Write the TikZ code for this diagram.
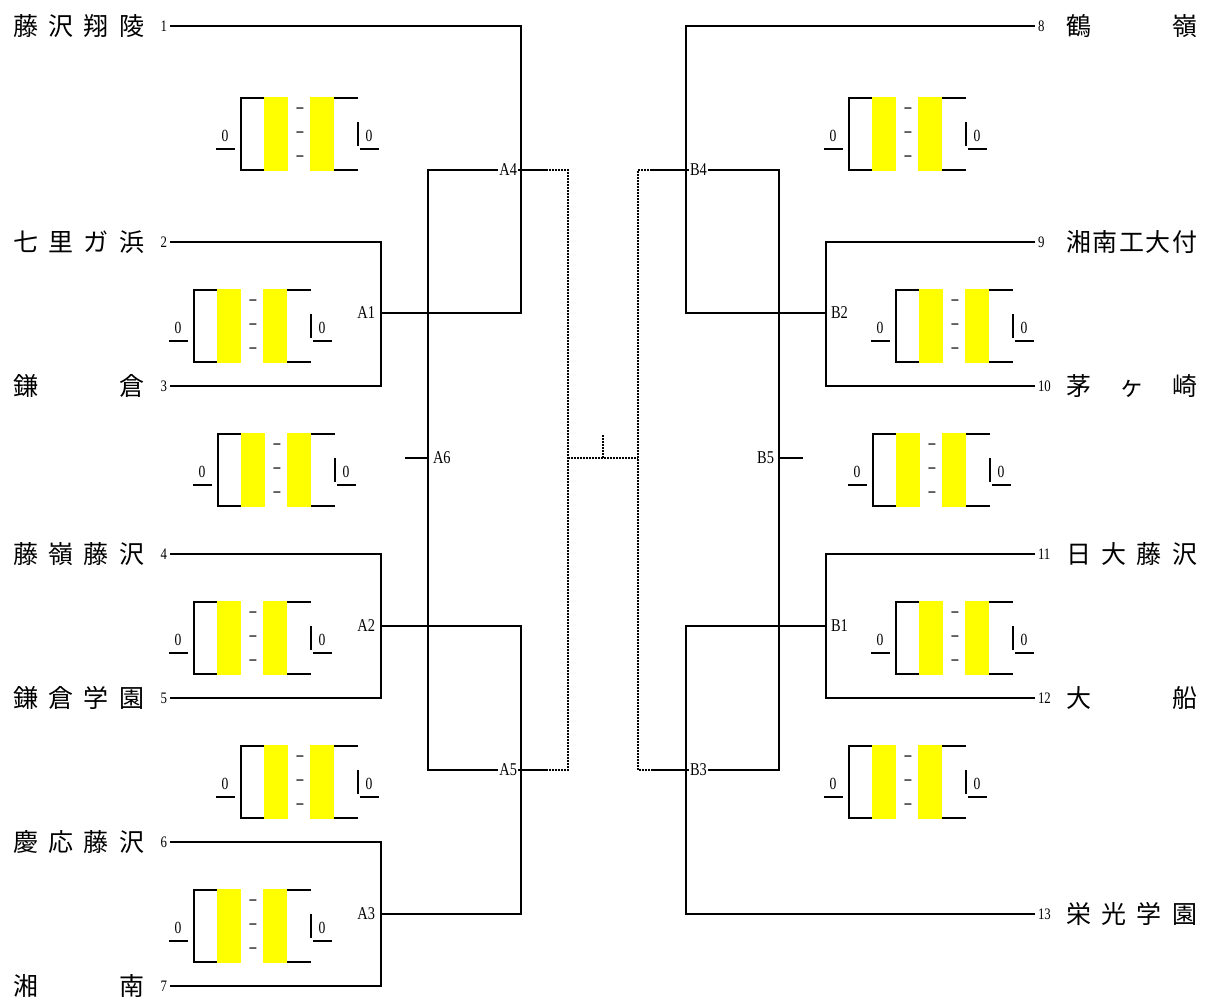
\documentclass[tikz,border=0pt]{standalone}
\usepackage{fontspec}
\newfontfamily\cjk{Noto Sans CJK JP}
\newfontfamily\narrow[FakeStretch=0.8]{Liberation Serif}
\usepackage{tikz}
\definecolor{scoreyellow}{RGB}{255,255,0}
\newcommand{\teamname}[1]{\makebox[131pt][s]{#1}}
\tikzset{
  bar/.style={line width=2pt},
  dots/.style={line width=2pt,dash pattern=on 2pt off 1pt},
  team/.style={font=\cjk\fontsize{25}{25}\selectfont,inner sep=0pt},
  num/.style={font=\narrow\fontsize{16}{16}\selectfont,inner sep=2pt},
  lab/.style={font=\narrow\fontsize{18}{18}\selectfont,inner sep=1pt},
  score/.style={font=\narrow\fontsize{17}{17}\selectfont,inner sep=0pt},
  scorebox/.pic={
    \draw[bar] (-24,-36) -- (-58,-36) -- (-58,36) -- (-24,36);
    \draw[bar] (24,-36) -- (59,-36);
    \draw[bar] (24,36) -- (59,36);
    \draw[bar] (59,-12) -- (59,12);
    \fill[scoreyellow] (-35,-37) rectangle (-11,37);
    \fill[scoreyellow] (11,-37) rectangle (35,37);
    \node[score] (-m1) at (1,-24) {\bfseries –};
    \node[score] (-m2) at (1,0) {\bfseries –};
    \node[score] (-m3) at (1,24) {\bfseries –};
    \node[score] (-ls) at (-74,2) {0};
    \node[score] (-rs) at (70,2) {0};
    \draw[line width=1.2pt] (-83,15) -- (-64,15);
    \draw[line width=1.2pt] (61,15) -- (80,15);
  }
}

\begin{document}
\begin{tikzpicture}[x=1pt,y=-1pt,bar]
  \useasboundingbox (0,0) rectangle (1205,1001);
  % left block
  \node[team,anchor=west] (t1) at (12,26) {\teamname{藤\hfill{}沢\hfill{}翔\hfill{}陵}};
  \node[team,anchor=west] (t2) at (12,242) {\teamname{七\hfill{}里\hfill{}ガ\hfill{}浜}};
  \node[team,anchor=west] (t3) at (12,386) {\teamname{鎌\hfill{}倉}};
  \node[team,anchor=west] (t4) at (12,554) {\teamname{藤\hfill{}嶺\hfill{}藤\hfill{}沢}};
  \node[team,anchor=west] (t5) at (12,698) {\teamname{鎌\hfill{}倉\hfill{}学\hfill{}園}};
  \node[team,anchor=west] (t6) at (12,842) {\teamname{慶\hfill{}応\hfill{}藤\hfill{}沢}};
  \node[team,anchor=west] (t7) at (12,986) {\teamname{湘\hfill{}南}};
  \node[num,anchor=east] (n1) at (170,26) {1};
  \node[num,anchor=east] (n2) at (170,242) {2};
  \node[num,anchor=east] (n3) at (170,386) {3};
  \node[num,anchor=east] (n4) at (170,554) {4};
  \node[num,anchor=east] (n5) at (170,698) {5};
  \node[num,anchor=east] (n6) at (170,842) {6};
  \node[num,anchor=east] (n7) at (170,986) {7};
  \coordinate (cA1) at (381,313);
  \coordinate (cA2) at (381,626);
  \coordinate (cA3) at (381,914);
  \coordinate (cA4) at (521,170);
  \coordinate (cA5) at (521,770);
  \coordinate (cA6) at (428,458);
  \coordinate (sA6) at (405,458);
  \coordinate (dA4) at (546,170);
  \coordinate (dA5) at (546,770);
  \draw (n1.east) -| (cA4) |- (cA1);
  \draw (n2.east) -| (cA1) |- (n3.east);
  \draw (n4.east) -| (cA2) |- (n5.east);
  \draw (n6.east) -| (cA3) |- (n7.east);
  \draw (cA2) -| (cA5) |- (cA3);
  \draw (dA4) -| (cA6) |- (dA5);
  \draw (sA6) -- (cA6);
  \node[lab,anchor=east] (lA1) at (377,313) {A1};
  \node[lab,anchor=east] (lA2) at (377,626) {A2};
  \node[lab,anchor=east] (lA3) at (377,914) {A3};
  \node[lab,anchor=east,fill=white] (lA4) at (519,170) {A4};
  \node[lab,anchor=east,fill=white] (lA5) at (519,770) {A5};
  \node[lab,anchor=west] (lA6) at (431,458) {A6};
  % right block
  \node[team,anchor=west] (t8) at (1065,26) {\teamname{鶴\hfill{}嶺}};
  \node[team,anchor=west] (t9) at (1065,242) {\teamname{湘\hfill{}南\hfill{}工\hfill{}大\hfill{}付}};
  \node[team,anchor=west] (t10) at (1065,386) {\teamname{茅\hfill{}ヶ\hfill{}崎}};
  \node[team,anchor=west] (t11) at (1065,554) {\teamname{日\hfill{}大\hfill{}藤\hfill{}沢}};
  \node[team,anchor=west] (t12) at (1065,698) {\teamname{大\hfill{}船}};
  \node[team,anchor=west] (t13) at (1065,914) {\teamname{栄\hfill{}光\hfill{}学\hfill{}園}};
  \node[num,anchor=west] (n8) at (1035,26) {8};
  \node[num,anchor=west] (n9) at (1035,242) {9};
  \node[num,anchor=west] (n10) at (1035,386) {10};
  \node[num,anchor=west] (n11) at (1035,554) {11};
  \node[num,anchor=west] (n12) at (1035,698) {12};
  \node[num,anchor=west] (n13) at (1035,914) {13};
  \coordinate (cB1) at (826,626);
  \coordinate (cB2) at (826,313);
  \coordinate (cB3) at (686,770);
  \coordinate (cB4) at (686,170);
  \coordinate (cB5) at (779,458);
  \coordinate (sB5) at (803,458);
  \coordinate (dB4) at (652,170);
  \coordinate (dB3) at (652,770);
  \draw (n8.west) -| (cB4) |- (cB2);
  \draw (n9.west) -| (cB2) |- (n10.west);
  \draw (n11.west) -| (cB1) |- (n12.west);
  \draw (cB1) -| (cB3) |- (n13.west);
  \draw (dB4) -| (cB5) |- (dB3);
  \draw (cB5) -- (sB5);
  \node[lab,anchor=west] (lB1) at (829,626) {B1};
  \node[lab,anchor=west] (lB2) at (829,313) {B2};
  \node[lab,anchor=west,fill=white] (lB3) at (688,770) {B3};
  \node[lab,anchor=west,fill=white] (lB4) at (688,170) {B4};
  \node[lab,anchor=east] (lB5) at (776,458) {B5};
  % final
  \coordinate (mL) at (568,458);
  \coordinate (mR) at (638,458);
  \coordinate (fin) at (603,458);
  \coordinate (finT) at (603,434);
  \draw[dots] (dA4) -| (mL) |- (dA5);
  \draw[dots] (dB4) -| (mR) |- (dB3);
  \draw[dots] (mL) -- (mR);
  \draw[dots] (fin) -- (finT);
  % score boxes
  \pic (L1) at (299,134) {scorebox};
  \pic (L2) at (252,326) {scorebox};
  \pic (L3) at (276,470) {scorebox};
  \pic (L4) at (252,638) {scorebox};
  \pic (L5) at (299,782) {scorebox};
  \pic (L6) at (252,926) {scorebox};
  \pic (R1) at (907,134) {scorebox};
  \pic (R2) at (954,326) {scorebox};
  \pic (R3) at (931,470) {scorebox};
  \pic (R4) at (954,638) {scorebox};
  \pic (R5) at (907,782) {scorebox};
\end{tikzpicture}
\end{document}
